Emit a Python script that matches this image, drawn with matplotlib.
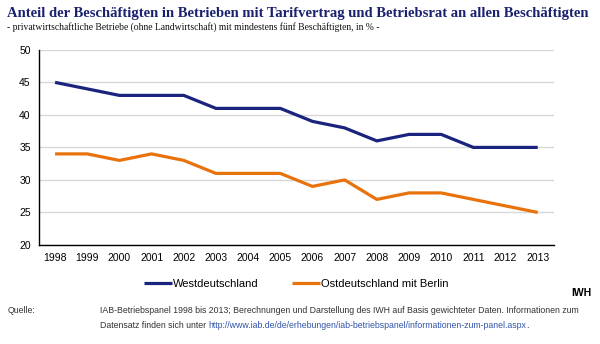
import matplotlib.pyplot as plt

years = list(range(1998, 2014))
west = [45, 44, 43, 43, 43, 41, 41, 41, 39, 38, 36, 37, 37, 35, 35, 35]
east = [34, 34, 33, 34, 33, 31, 31, 31, 29, 30, 27, 28, 28, 27, 26, 25]
yticks = [20, 25, 30, 35, 40, 45, 50]

fig = plt.figure(figsize=(6, 3.44), dpi=100)
ax = fig.add_axes([0.065, 0.288, 0.858, 0.567])

ax.plot(years, west, color='#1a237e', lw=2.3, label='Westdeutschland', solid_capstyle='butt')
ax.plot(years, east, color='#e8730c', lw=2.3, label='Ostdeutschland mit Berlin', solid_capstyle='butt')

ax.set_xlim(1997.5, 2013.5)
ax.set_ylim(20, 50)
ax.set_xticks(years)
ax.set_yticks(yticks)
ax.tick_params(length=0, labelsize=7.5, pad=6)
for lab in ax.get_xticklabels() + ax.get_yticklabels():
    lab.set_fontfamily('Liberation Sans')
ax.grid(axis='y', color='#d8d8d8', lw=1)
ax.set_axisbelow(True)
for s in ['top', 'right']:
    ax.spines[s].set_visible(False)
ax.spines['left'].set_linewidth(1)
ax.spines['bottom'].set_linewidth(1)

leg = ax.legend(loc='upper center', bbox_to_anchor=(0.5, -0.125), ncol=2, frameon=False,
                prop={'family': 'Liberation Sans', 'size': 8}, handlelength=2.5,
                handletextpad=0.1, columnspacing=3)

fig.text(0.012, 0.962, 'Anteil der Beschäftigten in Betrieben mit Tarifvertrag und Betriebsrat an allen Beschäftigten',
         family='Liberation Serif', weight='bold', size=10.5, color='#1a2270', va='center')
fig.text(0.012, 0.92, '- privatwirtschaftliche Betriebe (ohne Landwirtschaft) mit mindestens fünf Beschäftigten, in % -',
         family='Liberation Serif', size=6.9, color='#111111', va='center')
fig.text(0.985, 0.148, 'IWH', family='Liberation Sans', weight='bold', size=7.5, ha='right', va='center')

# source block: shrink font until the first line fits the reference width
src = dict(family='Liberation Sans', size=6.3, color='#333333', va='center')
fig.text(0.012, 0.096, 'Quelle:', **src)
x0 = 100
line1 = fig.text(x0 / 600, 0.096, 'IAB-Betriebspanel 1998 bis 2013; Berechnungen und Darstellung des IWH auf Basis gewichteter Daten. Informationen zum', **src)
fig.canvas.draw()
r = fig.canvas.get_renderer()
size = 6.3
while line1.get_window_extent(r).width > 508 and size > 4:
    size -= 0.05
    line1.set_fontsize(size)
    fig.canvas.draw()
src['size'] = size
t1 = fig.text(x0 / 600, 0.055, 'Datensatz finden sich unter ', **src)
fig.canvas.draw()
x1 = x0 + t1.get_window_extent(r).width
t2 = fig.text(x1 / 600, 0.055, 'http://www.iab.de/de/erhebungen/iab-betriebspanel/informationen-zum-panel.aspx',
              **{**src, 'color': '#3355aa'})
fig.canvas.draw()
x2 = x1 + t2.get_window_extent(r).width
fig.text(x2 / 600, 0.055, '.', **src)

fig.savefig('out.png', dpi=100)
